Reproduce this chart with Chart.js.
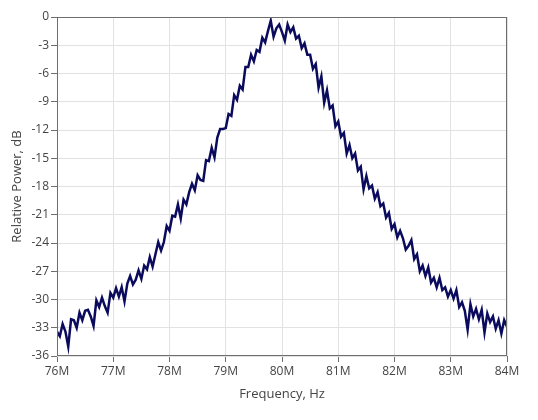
<!DOCTYPE html>
<html>
<head>
<meta charset="utf-8">
<script src="https://cdn.jsdelivr.net/npm/chart.js@4.4.1/dist/chart.umd.min.js"></script>
<style>
  html, body { margin: 0; padding: 0; background: #fff; }
  #wrap { width: 538px; height: 420px; }
</style>
</head>
<body>
<div id="wrap"><canvas id="spectrumChart" width="538" height="420"></canvas></div>
<script>
// frequency in MHz, 0.05 MHz steps from 76 to 84
const freqStartMHz = 76;
const freqStepMHz = 0.05;

// relative power in dB
const powerDb = [
  -33.4, -33.9, -32.6, -33.4, -35.0, -32.1, -32.2, -33.0, -31.4, -32.2,
  -31.2, -31.1, -31.8, -32.8, -30.1, -30.8, -29.8, -30.7, -31.4, -29.3,
  -29.8, -28.8, -29.7, -28.7, -30.2, -28.3, -27.5, -28.4, -27.9, -26.9,
  -27.8, -26.4, -26.8, -25.5, -26.5, -25.2, -23.9, -24.8, -23.9, -22.2,
  -22.7, -21.1, -21.2, -19.9, -21.4, -19.4, -19.9, -18.6, -17.7, -18.4,
  -16.8, -17.3, -17.4, -15.2, -15.3, -13.9, -14.9, -12.8, -11.9, -11.9,
  -11.8, -10.3, -10.5, -8.3, -8.8, -7.3, -7.7, -5.3, -5.3, -4.0,
  -4.7, -3.5, -3.7, -2.2, -2.7, -1.5, -0.4, -2.1, -1.2, -0.8,
  -1.6, -2.5, -0.8, -1.6, -1.1, -2.3, -2.0, -3.3, -2.8, -4.0,
  -4.0, -5.5, -5.0, -7.5, -6.3, -9.1, -7.8, -9.7, -9.4, -11.6,
  -11.1, -12.7, -12.3, -14.5, -13.6, -15.0, -14.5, -16.3, -15.9, -18.3,
  -16.9, -18.2, -17.9, -19.3, -18.6, -20.1, -19.8, -21.3, -20.8, -22.5,
  -22.0, -23.4, -22.7, -23.5, -24.7, -24.3, -23.7, -25.7, -25.2, -27.0,
  -26.4, -27.5, -26.6, -28.2, -27.7, -28.7, -27.7, -29.0, -28.7, -29.7,
  -29.0, -29.9, -29.0, -30.8, -30.3, -31.2, -33.2, -30.5, -31.8, -31.0,
  -32.1, -31.1, -33.5, -31.5, -32.4, -31.8, -33.1, -32.2, -33.6, -32.2,
  -32.9
];

const xTicksMHz = [76, 77, 78, 79, 80, 81, 82, 83, 84];
const yTicksDb = [0, -3, -6, -9, -12, -15, -18, -21, -24, -27, -30, -33, -36];

const points = powerDb.map((v, i) => ({
  x: (freqStartMHz + i * freqStepMHz) * 1e6,
  y: v
}));

const frame = {
  id: 'frame',
  afterDatasetsDraw(chart) {
    const { ctx, chartArea: a } = chart;
    ctx.save();
    ctx.strokeStyle = '#6e6e6e';
    ctx.lineWidth = 1;
    ctx.strokeRect(a.left + 0.5, a.top + 0.5, a.right - a.left - 1, a.bottom - a.top - 1);
    ctx.restore();
  }
};

const tickFont = { family: '"Open Sans", "Noto Sans", sans-serif', size: 12 };
const titleFont = { family: '"Open Sans", "Noto Sans", sans-serif', size: 13 };

new Chart(document.getElementById('spectrumChart'), {
  type: 'line',
  data: {
    datasets: [{
      data: points,
      borderColor: '#0b0b5e',
      borderWidth: 2.5,
      pointRadius: 0,
      tension: 0,
      fill: false
    }]
  },
  options: {
    responsive: false,
    animation: false,
    layout: { padding: { top: 17, right: 31, bottom: 18, left: 0 } },
    plugins: { legend: { display: false }, tooltip: { enabled: false } },
    scales: {
      x: {
        type: 'linear',
        min: xTicksMHz[0] * 1e6,
        max: xTicksMHz[xTicksMHz.length - 1] * 1e6,
        afterBuildTicks: (scale) => { scale.ticks = xTicksMHz.map(v => ({ value: v * 1e6 })); },
        afterFit: (scale) => { scale.height = 46; },
        ticks: {
          color: '#444',
          font: tickFont,
          padding: 2,
          maxRotation: 0,
          callback: (v) => (v / 1e6) + 'M'
        },
        grid: { color: '#e2e2e2', tickColor: '#6e6e6e', tickLength: 6 },
        border: { display: false },
        title: { display: true, text: 'Frequency, Hz', color: '#444', font: titleFont, padding: { top: 2, bottom: 0 } }
      },
      y: {
        min: yTicksDb[yTicksDb.length - 1],
        max: yTicksDb[0],
        afterBuildTicks: (scale) => { scale.ticks = yTicksDb.map(v => ({ value: v })); },
        afterFit: (scale) => { scale.width = 57; },
        ticks: { color: '#444', font: tickFont, padding: 2 },
        grid: { color: '#e2e2e2', tickColor: '#6e6e6e', tickLength: 6 },
        border: { display: false },
        title: { display: true, text: 'Relative Power, dB', color: '#444', font: titleFont, padding: { top: 9, bottom: 0 } }
      }
    }
  },
  plugins: [frame]
});
</script>
</body>
</html>
